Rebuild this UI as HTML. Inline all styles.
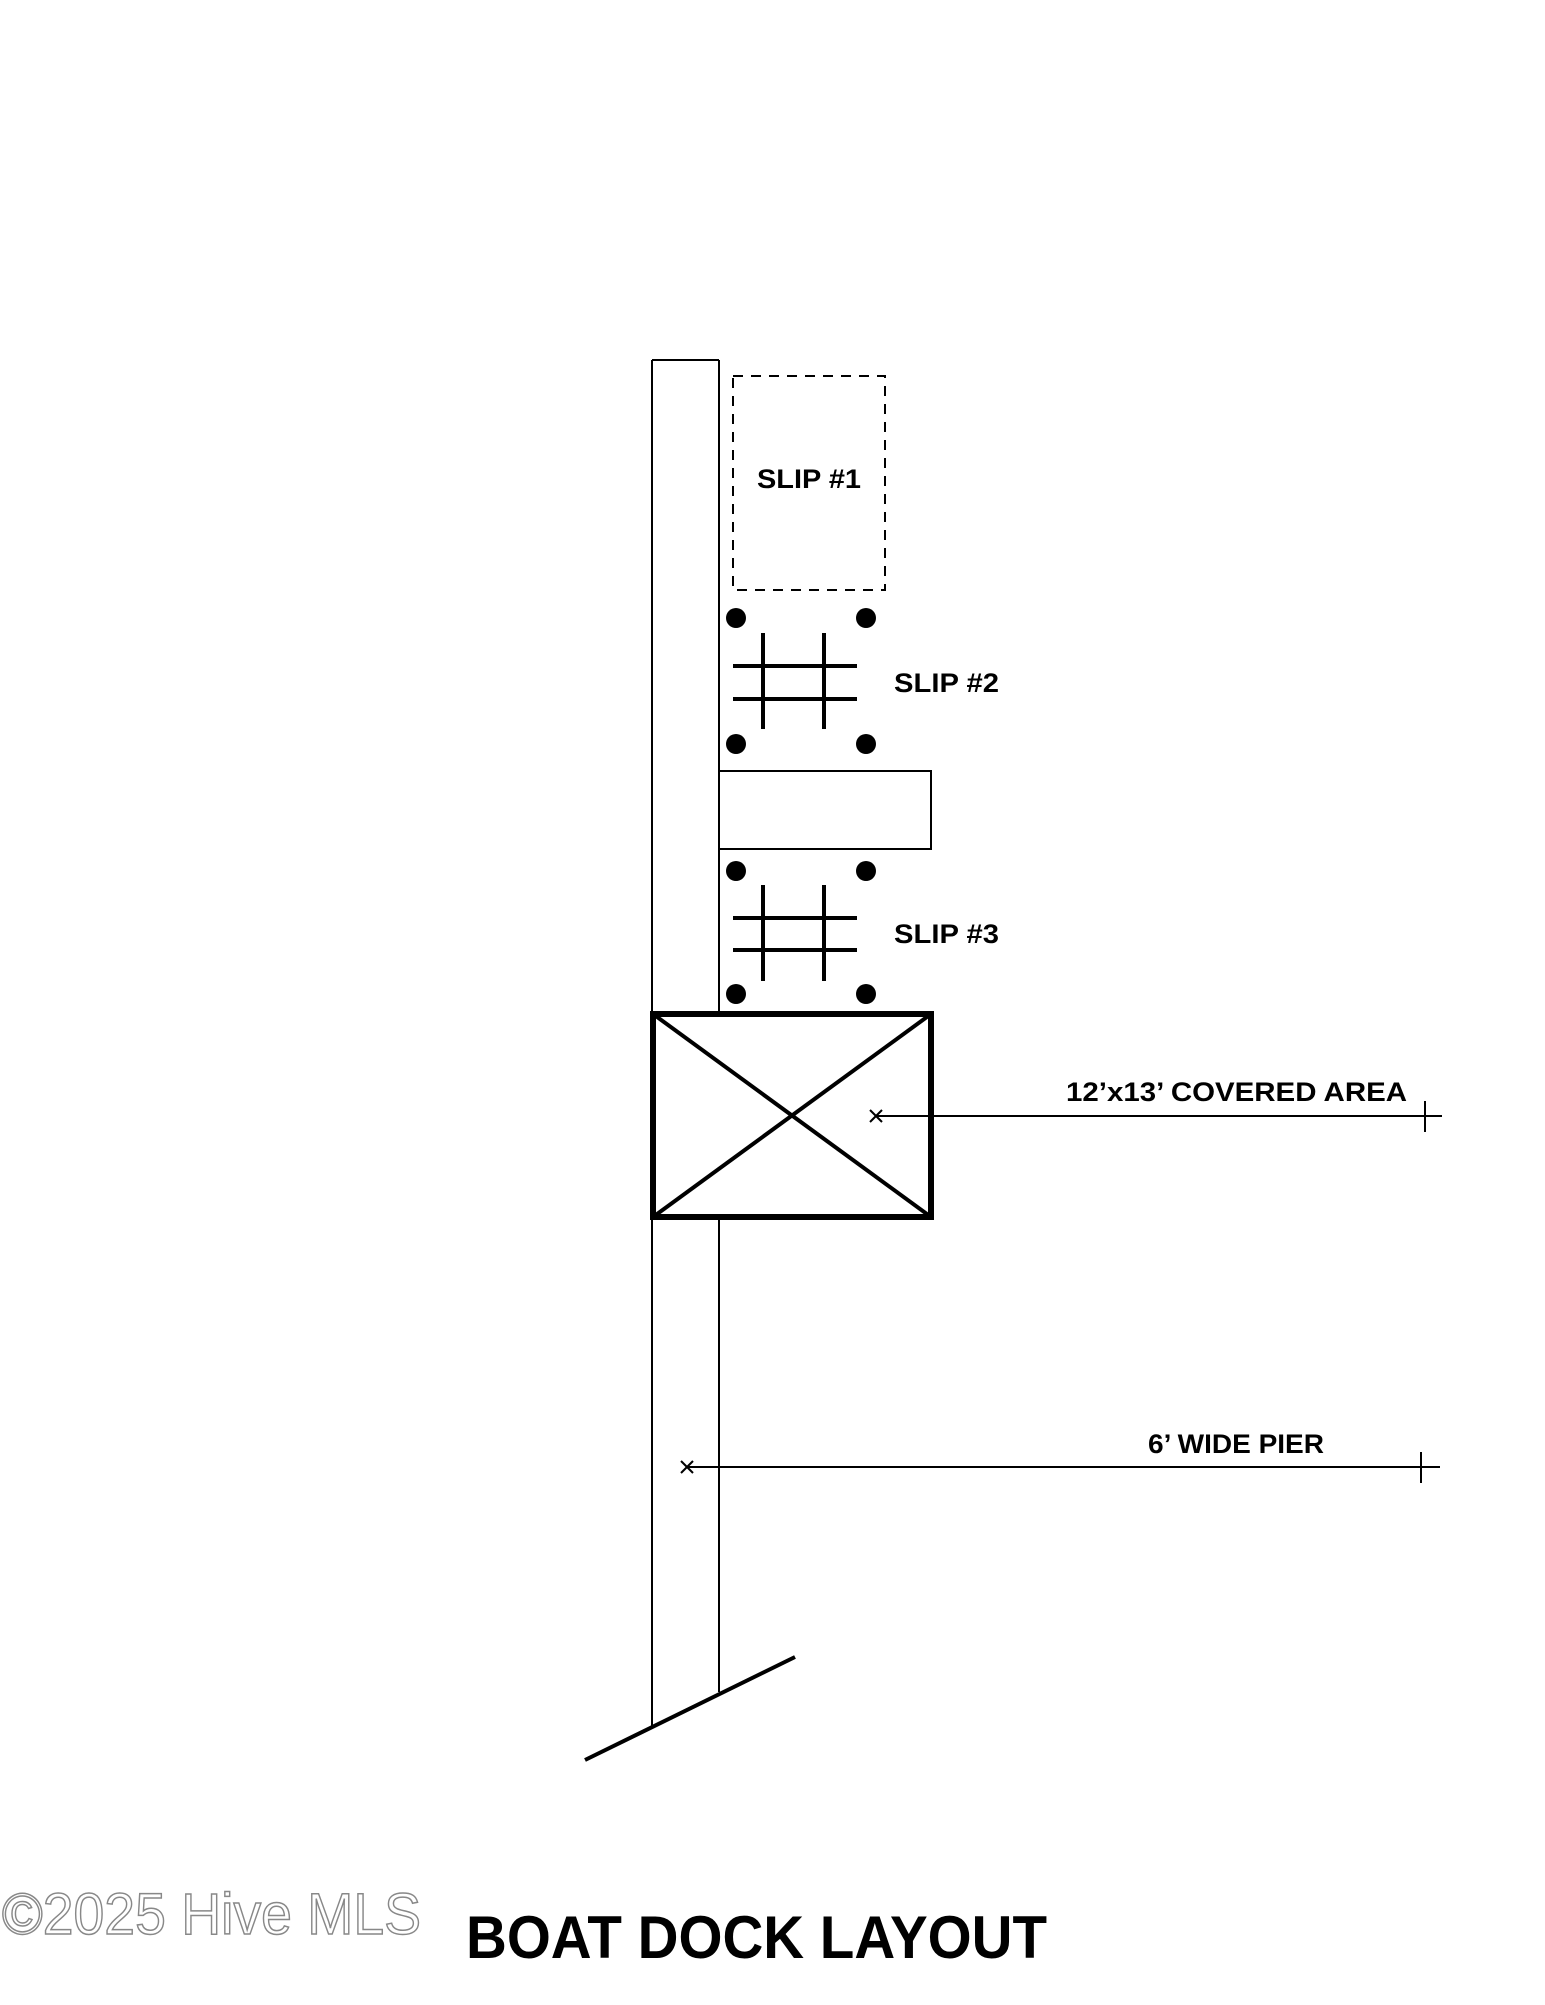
<!DOCTYPE html>
<html><head><style>html,body{margin:0;padding:0;background:#fff}</style></head>
<body>
<svg width="1545" height="2000" viewBox="0 0 1545 2000" xmlns="http://www.w3.org/2000/svg" font-family="Liberation Sans, sans-serif" font-weight="bold">
<rect width="1545" height="2000" fill="#fff"/>
<g stroke="#000" fill="none">
<!-- pier -->
<line x1="652" y1="360" x2="719" y2="360" stroke-width="2"/>
<line x1="652" y1="360" x2="652" y2="1726" stroke-width="2"/>
<line x1="719" y1="360" x2="719" y2="1692" stroke-width="2"/>
<line x1="585" y1="1760" x2="795" y2="1657" stroke-width="4"/>
<!-- slip 1 -->
<rect x="733" y="376" width="152" height="214" stroke-width="2" stroke-dasharray="10,8"/>
<!-- hashes -->
<g stroke-width="4">
<line x1="763" y1="633" x2="763" y2="729"/><line x1="824" y1="633" x2="824" y2="729"/>
<line x1="733" y1="666" x2="857" y2="666"/><line x1="733" y1="699" x2="857" y2="699"/>
<line x1="763" y1="885" x2="763" y2="981"/><line x1="824" y1="885" x2="824" y2="981"/>
<line x1="733" y1="918" x2="857" y2="918"/><line x1="733" y1="950" x2="857" y2="950"/>
</g>
<!-- finger -->
<rect x="719" y="771" width="212" height="78" stroke-width="2"/>
<!-- covered -->
<rect x="653" y="1014" width="278" height="203" stroke-width="6" fill="#fff"/>
<line x1="653" y1="1014" x2="931" y2="1217" stroke-width="4"/>
<line x1="931" y1="1014" x2="653" y2="1217" stroke-width="4"/>
<!-- dims -->
<line x1="876" y1="1116" x2="1442" y2="1116" stroke-width="2"/>
<line x1="1425" y1="1101" x2="1425" y2="1132" stroke-width="2"/>
<line x1="870" y1="1110" x2="882" y2="1122" stroke-width="2"/><line x1="882" y1="1110" x2="870" y2="1122" stroke-width="2"/>
<line x1="687" y1="1467" x2="1440" y2="1467" stroke-width="2"/>
<line x1="1421" y1="1452" x2="1421" y2="1483" stroke-width="2"/>
<line x1="681" y1="1461" x2="693" y2="1473" stroke-width="2"/><line x1="693" y1="1461" x2="681" y2="1473" stroke-width="2"/>
</g>
<g fill="#000">
<circle cx="736" cy="618" r="10"/><circle cx="866" cy="618" r="10"/>
<circle cx="736" cy="744" r="10"/><circle cx="866" cy="744" r="10"/>
<circle cx="736" cy="871" r="10"/><circle cx="866" cy="871" r="10"/>
<circle cx="736" cy="994" r="10"/><circle cx="866" cy="994" r="10"/>
<text x="757" y="488" font-size="27" textLength="104" lengthAdjust="spacingAndGlyphs">SLIP #1</text>
<text x="894" y="692" font-size="27" textLength="105" lengthAdjust="spacingAndGlyphs">SLIP #2</text>
<text x="894" y="943" font-size="27" textLength="105" lengthAdjust="spacingAndGlyphs">SLIP #3</text>
<text x="1066" y="1101" font-size="27" textLength="341" lengthAdjust="spacingAndGlyphs">12’x13’ COVERED AREA</text>
<text x="1148" y="1453" font-size="27" textLength="176" lengthAdjust="spacingAndGlyphs">6’ WIDE PIER</text>
<text x="466" y="1958" font-size="60" textLength="581" lengthAdjust="spacingAndGlyphs">BOAT DOCK LAYOUT</text>
</g>
<text x="2" y="1934" font-size="58" font-weight="normal" fill="#fff" stroke="#888" stroke-width="1.5" textLength="419" lengthAdjust="spacingAndGlyphs">©2025 Hive MLS</text>
</svg>
</body></html>
